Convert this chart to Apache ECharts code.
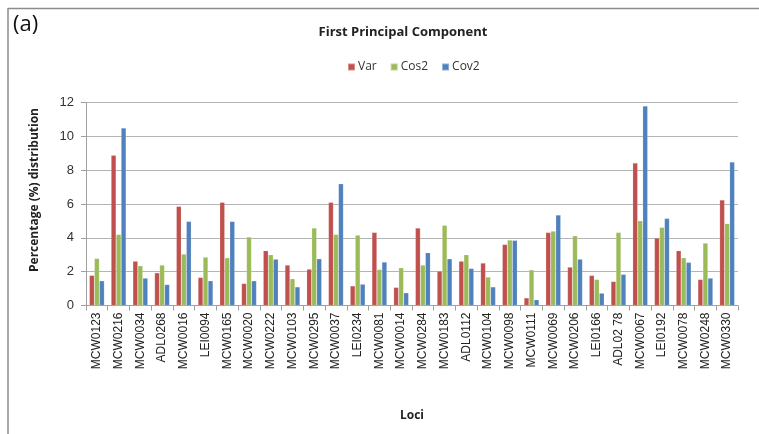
<!DOCTYPE html>
<html>
<head>
<meta charset="utf-8">
<script src="https://cdn.jsdelivr.net/npm/echarts@6/dist/echarts.min.js"></script>
<style>
  html, body { margin: 0; padding: 0; background: #fff; }
  #chart { width: 759px; height: 434px; }
</style>
</head>
<body>
<div id="chart"></div>
<script>
const loci = ['MCW0123', 'MCW0216', 'MCW0034', 'ADL0268', 'MCW0016', 'LEI0094', 'MCW0165', 'MCW0020',
  'MCW0222', 'MCW0103', 'MCW0295', 'MCW0037', 'LEI0234', 'MCW0081', 'MCW0014', 'MCW0284', 'MCW0183',
  'ADL0112', 'MCW0104', 'MCW0098', 'MCW0111', 'MCW0069', 'MCW0206', 'LEI0166', 'ADL02 78', 'MCW0067',
  'LEI0192', 'MCW0078', 'MCW0248', 'MCW0330']

const varVals = [1.78, 8.88, 2.62, 1.93, 5.86, 1.66, 6.1, 1.3, 3.24, 2.39, 2.15, 6.1, 1.16, 4.32, 1.07,
  4.58, 2.03, 2.62, 2.51, 3.61, 0.45, 4.32, 2.27, 1.78, 1.42, 8.43, 3.99, 3.24, 1.54, 6.24]
const cos2Vals = [2.78, 4.2, 2.35, 2.39, 3.04, 2.86, 2.82, 4.05, 3.0, 1.58, 4.58, 4.2, 4.16, 2.13, 2.23,
  2.39, 4.74, 3.0, 1.68, 3.87, 2.11, 4.4, 4.12, 1.54, 4.32, 5.01, 4.62, 2.82, 3.69, 4.84]
const cov2Vals = [1.46, 10.5, 1.62, 1.24, 4.97, 1.46, 4.97, 1.46, 2.74, 1.1, 2.76, 7.2, 1.26, 2.57, 0.75,
  3.12, 2.76, 2.19, 1.1, 3.85, 0.34, 5.35, 2.74, 0.73, 1.84, 11.8, 5.15, 2.55, 1.62, 8.49]

const chart = echarts.init(document.getElementById('chart'))

const mkSeries = (name, data, color) => ({
  name,
  type: 'bar',
  data,
  barWidth: 5,
  barGap: '0%',
  itemStyle: { color, borderColor: 'rgba(255,255,255,0.35)', borderWidth: 0.5 }
})

const option = {
  animation: false,
  textStyle: { fontFamily: 'Liberation Sans' },
  title: {
    text: 'First Principal Component',
    left: 398,
    top: 21,
    textAlign: 'center',
    textStyle: { fontFamily: 'Open Sans', fontSize: 13, fontWeight: 'bold', color: '#222' }
  },
  legend: {
    top: 56,
    left: 342,
    itemWidth: 7,
    itemHeight: 7,
    itemGap: 13,
    icon: 'rect',
    textStyle: { fontFamily: 'Open Sans', fontSize: 12, color: '#333', padding: [0, 0, 0, -2] },
    data: ['Var', 'Cos2', 'Cov2']
  },
  grid: { left: 86, right: 21, top: 102.5, bottom: 128.5, containLabel: false },
  xAxis: {
    type: 'category',
    data: loci,
    name: 'Loci',
    nameLocation: 'middle',
    nameGap: 104,
    nameTextStyle: { fontFamily: 'Open Sans', fontSize: 12, fontWeight: 'bold', color: '#222' },
    axisLine: { lineStyle: { color: '#a0a0a0' } },
    axisTick: { show: true, length: 5, lineStyle: { color: '#a0a0a0' } },
    axisLabel: { rotate: 90, fontSize: 12, color: '#222', margin: 7, interval: 0 }
  },
  yAxis: {
    type: 'value',
    min: 0,
    max: 12,
    interval: 2,
    axisLine: { show: true, lineStyle: { color: '#a0a0a0' } },
    axisTick: { show: true, length: 5, inside: false, lineStyle: { color: '#a0a0a0' } },
    axisLabel: { fontSize: 13, color: '#333', margin: 12 },
    splitLine: { lineStyle: { color: '#b4b4b4', width: 1 } }
  },
  graphic: [
    { type: 'line', shape: { x1: 8, y1: 8.5, x2: 759, y2: 8.5 }, style: { stroke: '#8c8c8c', lineWidth: 1.5 } },
    { type: 'line', shape: { x1: 8, y1: 8, x2: 8, y2: 434 }, style: { stroke: '#8c8c8c', lineWidth: 1.5 } },
    { type: 'text', left: 13, top: 14, style: { text: '(a)', font: '22px "Open Sans"', fill: '#111' } },
    {
      type: 'text', x: 35, y: 190, rotation: Math.PI / 2,
      style: {
        text: 'Percentage (%) distribution', font: 'bold 12px "Open Sans"', fill: '#222',
        align: 'center', verticalAlign: 'middle'
      }
    }
  ],
  series: [
    mkSeries('Var', varVals, '#c0504d'),
    mkSeries('Cos2', cos2Vals, '#9bbb59'),
    mkSeries('Cov2', cov2Vals, '#4f81bd')
  ]
}

chart.setOption(option)
</script>
</body>
</html>
